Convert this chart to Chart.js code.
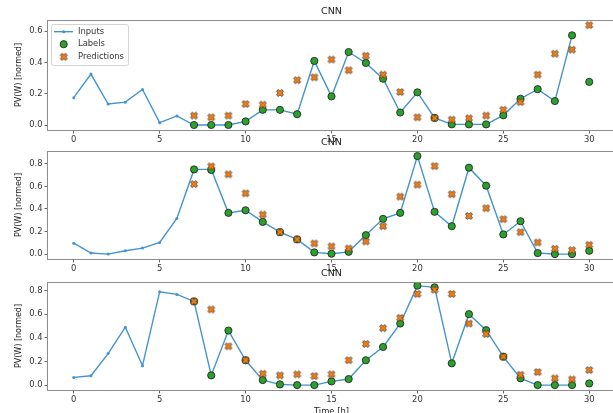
<!DOCTYPE html>
<html>
<head>
<meta charset="utf-8">
<script src="https://cdn.jsdelivr.net/npm/chart.js@4.4.1/dist/chart.umd.min.js"></script>
<style>
  html, body { margin: 0; padding: 0; background: #fff; overflow: hidden; width: 613px; height: 413px; }
  .panel { position: absolute; left: 0; width: 640px; }
</style>
</head>
<body>
<div class="panel" id="p1"><canvas id="c1"></canvas></div>
<div class="panel" id="p2"><canvas id="c2"></canvas></div>
<div class="panel" id="p3"><canvas id="c3"></canvas></div>
<script>
// CNN window plots: inputs, labels and predictions, three examples

// time steps
const inputSteps = [0,1,2,3,4,5,6,7,8,9,10,11,12,13,14,15,16,17,18,19,20,21,22,23,24,25,26,27,28,29];
const labelSteps = [7,8,9,10,11,12,13,14,15,16,17,18,19,20,21,22,23,24,25,26,27,28,29,30];
const xTicks = [0,5,10,15,20,25,30];

// example 1
const inputs1 = [0.175,0.326,0.134,0.146,0.227,0.015,0.058,0.0,0.0,0.0,0.023,0.097,0.097,0.069,0.41,
                 0.183,0.467,0.397,0.296,0.08,0.209,0.045,0.004,0.004,0.004,0.062,0.168,0.229,0.153,0.574];
const labels1 = [0.0,0.0,0.0,0.023,0.097,0.097,0.069,0.41,0.183,0.467,0.397,0.296,0.08,0.209,0.045,
                 0.004,0.004,0.004,0.062,0.168,0.229,0.153,0.574,0.276];
const preds1  = [0.06,0.049,0.06,0.134,0.13,0.205,0.287,0.305,0.419,0.35,0.443,0.322,0.211,0.049,0.045,
                 0.034,0.043,0.06,0.097,0.146,0.322,0.456,0.482,0.639];
const yTicks1 = [0,0.2,0.4,0.6];

// example 2
const inputs2 = [0.097,0.009,0.0,0.029,0.053,0.103,0.315,0.75,0.75,0.365,0.388,0.285,0.194,0.13,0.015,
                 0.003,0.02,0.168,0.312,0.365,0.868,0.374,0.247,0.765,0.606,0.174,0.291,0.009,0.0,0.0];
const labels2 = [0.75,0.745,0.365,0.388,0.285,0.194,0.13,0.015,0.003,0.02,0.168,0.312,0.365,0.868,0.374,
                 0.247,0.765,0.606,0.174,0.291,0.009,0.0,0.0,0.029];
const preds2  = [0.62,0.777,0.706,0.538,0.35,0.194,0.13,0.094,0.068,0.05,0.112,0.247,0.509,0.615,0.779,
                 0.53,0.338,0.406,0.309,0.194,0.103,0.047,0.035,0.082];
const yTicks2 = [0,0.2,0.4,0.6,0.8];

// example 3
const inputs3 = [0.065,0.079,0.266,0.489,0.164,0.789,0.766,0.707,0.082,0.461,0.21,0.042,0.006,0.0,0.0,
                 0.031,0.051,0.21,0.322,0.52,0.84,0.826,0.184,0.599,0.464,0.24,0.057,0.0,0.0,0.0];
const labels3 = [0.707,0.082,0.461,0.21,0.042,0.006,0.0,0.0,0.031,0.051,0.21,0.322,0.52,0.84,0.826,
                 0.184,0.599,0.464,0.24,0.057,0.0,0.0,0.0,0.014];
const preds3  = [0.707,0.639,0.328,0.21,0.096,0.082,0.091,0.076,0.091,0.21,0.348,0.481,0.568,0.77,0.806,
                 0.77,0.52,0.432,0.24,0.087,0.11,0.057,0.048,0.127];
const yTicks3 = [0,0.2,0.4,0.6,0.8];

const FONT = '"DejaVu Sans", sans-serif';
const BLUE = '#4393cf', GREEN = '#2ca02c', ORANGE = '#ff7f0e';

// filled "X" marker like matplotlib's
function xPath(ctx, cx, cy, s){
  const p = [[-.25,-.5],[0,-.25],[.25,-.5],[.5,-.25],[.25,0],[.5,.25],[.25,.5],[0,.25],[-.25,.5],[-.5,.25],[-.25,0],[-.5,-.25]];
  ctx.beginPath();
  p.forEach((q,i) => { const x = cx + q[0]*s, y = cy + q[1]*s; i ? ctx.lineTo(x,y) : ctx.moveTo(x,y); });
  ctx.closePath();
}
const xMark = document.createElement('canvas');
xMark.width = 10; xMark.height = 10;
(() => {
  const c = xMark.getContext('2d');
  xPath(c, 5, 5, 7);
  c.fillStyle = ORANGE; c.fill();
  c.strokeStyle = '#333'; c.lineWidth = 0.8; c.stroke();
})();

function drawLegend(ctx, a){
  const x0 = a.left + 3, y0 = a.top + 4;
  ctx.save();
  ctx.beginPath();
  ctx.roundRect(x0 + 0.5, y0 + 0.5, 77, 41, 2);
  ctx.fillStyle = 'rgba(255,255,255,0.8)'; ctx.fill();
  ctx.strokeStyle = '#d4d4d4'; ctx.lineWidth = 1; ctx.stroke();
  const mx = a.left + 15.7, tx = a.left + 30;
  const rows = [a.top + 11.7, a.top + 24.2, a.top + 36.8];
  // Inputs
  ctx.strokeStyle = BLUE; ctx.lineWidth = 1.4;
  ctx.beginPath(); ctx.moveTo(a.left + 6, rows[0]); ctx.lineTo(a.left + 25, rows[0]); ctx.stroke();
  ctx.fillStyle = BLUE; ctx.beginPath(); ctx.arc(mx, rows[0], 1.5, 0, Math.PI*2); ctx.fill();
  // Labels
  ctx.beginPath(); ctx.arc(mx, rows[1], 3.6, 0, Math.PI*2);
  ctx.fillStyle = GREEN; ctx.fill(); ctx.strokeStyle = '#1a1a1a'; ctx.lineWidth = 0.8; ctx.stroke();
  // Predictions
  ctx.drawImage(xMark, mx - 5, rows[2] - 5);
  ctx.fillStyle = '#333'; ctx.font = '8.4px ' + FONT;
  ctx.textAlign = 'left'; ctx.textBaseline = 'middle';
  ctx.fillText('Inputs', tx, rows[0]);
  ctx.fillText('Labels', tx, rows[1]);
  ctx.fillText('Predictions', tx, rows[2]);
  ctx.restore();
}

const decoPlugin = {
  id: 'deco',
  afterDraw(chart, args, opts){
    const {ctx, chartArea: a} = chart;
    ctx.save();
    ctx.strokeStyle = '#8c8c8c'; ctx.lineWidth = 1;
    ctx.strokeRect(Math.round(a.left) - 0.5, Math.round(a.top) + 0.5, Math.round(a.right - a.left) + 1, Math.round(a.bottom - a.top));
    const cx = (a.left + a.right) / 2;
    ctx.fillStyle = '#222'; ctx.textAlign = 'center'; ctx.textBaseline = 'middle';
    ctx.font = '9.5px ' + FONT;
    ctx.fillText(opts.title, cx, a.top - 8);
    ctx.font = '8px ' + FONT;
    ctx.save();
    ctx.translate(19, (a.top + a.bottom) / 2); ctx.rotate(-Math.PI / 2);
    ctx.fillText(opts.ylabel, 0, 0);
    ctx.restore();
    if (opts.xlabel){ ctx.font = '8.4px ' + FONT; ctx.fillText(opts.xlabel, cx, a.bottom + 22); }
    if (opts.legend) drawLegend(ctx, a);
    ctx.restore();
  }
};

const toXY = (xs, ys) => ys.map((v, i) => ({x: xs[i], y: v}));

function makePanel(id, boxId, top, bottom, inputs, labels, preds, yTicks, yMin, yMax, extra){
  const box = document.getElementById(boxId);
  box.style.top = (top - 20) + 'px';
  box.style.height = (bottom - top + 46) + 'px';
  const tickFont = {family: FONT, size: 8.4};
  new Chart(document.getElementById(id), {
    type: 'scatter',
    data: {
      datasets: [
        { label: 'Inputs', data: toXY(inputSteps, inputs), showLine: true, borderColor: BLUE, borderWidth: 1.4,
          backgroundColor: BLUE, pointRadius: 1.5, pointBorderWidth: 0, order: 3 },
        { label: 'Labels', data: toXY(labelSteps, labels), backgroundColor: GREEN, borderColor: '#1a1a1a',
          borderWidth: 0.8, pointRadius: 3.6, order: 2 },
        { label: 'Predictions', data: toXY(labelSteps, preds), pointStyle: xMark, pointRadius: 5, order: 1 }
      ]
    },
    options: {
      responsive: true, maintainAspectRatio: false, animation: false,
      layout: { padding: { top: 20, right: 25, left: 0, bottom: 0 } },
      plugins: { legend: { display: false }, tooltip: { enabled: false },
        deco: Object.assign({ title: 'CNN', ylabel: 'PV(W) [normed]' }, extra) },
      scales: {
        x: { type: 'linear', min: -1.5, max: 31.5,
          afterBuildTicks: s => { s.ticks = xTicks.map(v => ({value: v})); },
          afterFit: s => { s.height = 26; },
          ticks: { font: tickFont, color: '#333', padding: 1, maxRotation: 0, autoSkip: false },
          grid: { drawOnChartArea: false, tickLength: 3.5, tickColor: '#666' },
          border: { display: false } },
        y: { min: yMin, max: yMax,
          afterBuildTicks: s => { s.ticks = yTicks.map(v => ({value: v})); },
          afterFit: s => { s.width = 48; },
          ticks: { font: tickFont, color: '#333', padding: 2, callback: v => v.toFixed(1) },
          grid: { drawOnChartArea: false, tickLength: 3.5, tickColor: '#666' },
          border: { display: false } }
      }
    },
    plugins: [decoPlugin]
  });
}

makePanel('c1', 'p1', 20, 130, inputs1, labels1, preds1, yTicks1, -0.032, 0.672, { legend: true });
makePanel('c2', 'p2', 151, 259, inputs2, labels2, preds2, yTicks2, -0.0435, 0.913, {});
makePanel('c3', 'p3', 282, 390, inputs3, labels3, preds3, yTicks3, -0.0415, 0.871, { xlabel: 'Time [h]' });
</script>
</body>
</html>
